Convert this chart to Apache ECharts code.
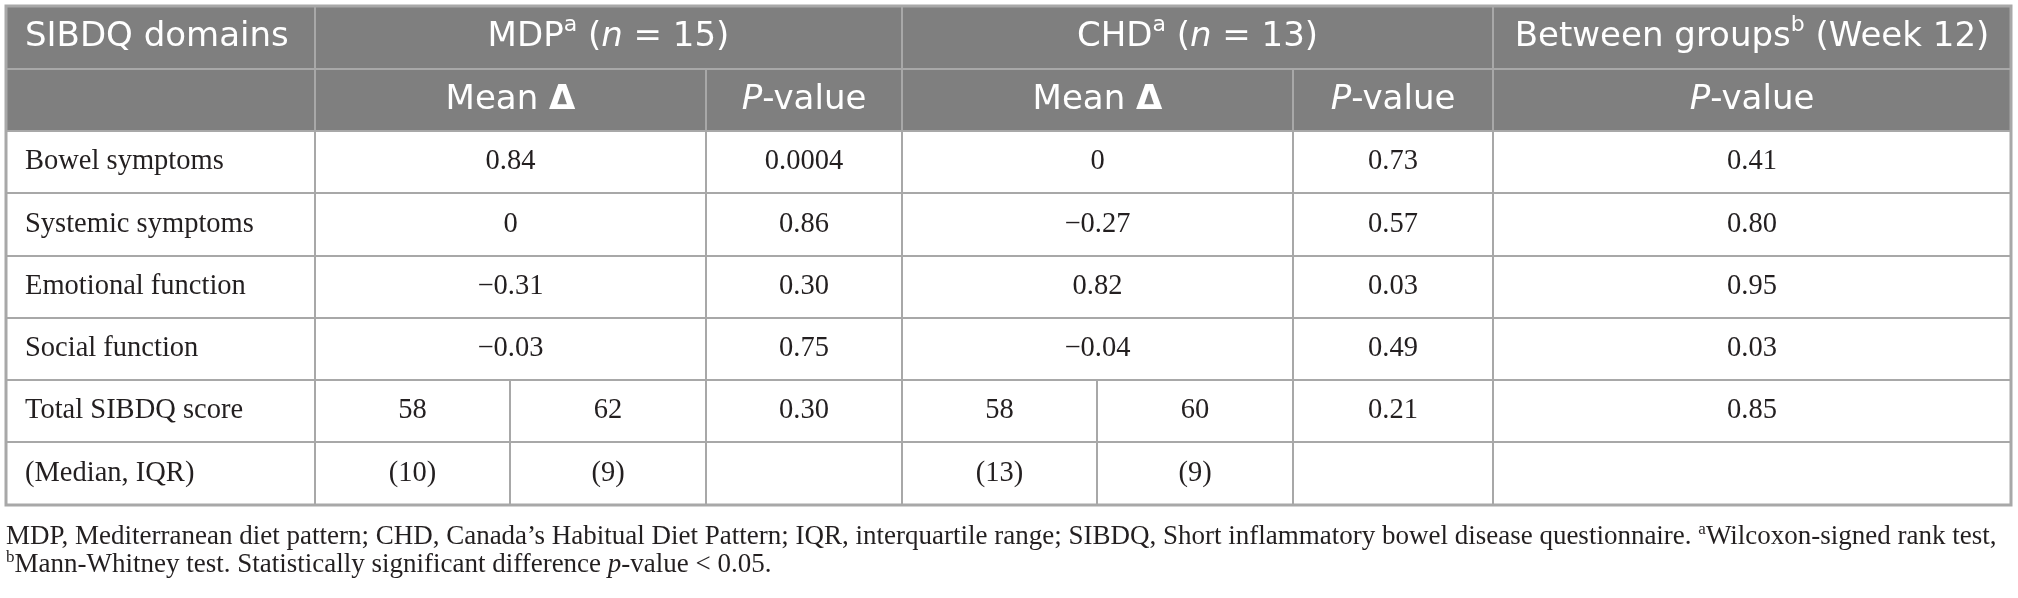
<!DOCTYPE html>
<html>
<head>
<meta charset="utf-8">
<script src="https://cdn.jsdelivr.net/npm/echarts@6/dist/echarts.min.js"></script>
<style>
html, body { margin: 0; padding: 0; background: #fff; }
#main { width: 2018px; height: 598px; }
</style>
</head>
<body>
<div id="main"></div>
<script>
'use strict';

// 表头
var firstHead = 'SIBDQ domains';
var groupHeads = ['MDP{sup|a} ({i|n} = 15)', 'CHD{sup|a} ({i|n} = 13)', 'Between groups{sup|b} (Week 12)'];
var subHeads = ['Mean {b|Δ}', '{i|P}-value', 'Mean {b|Δ}', '{i|P}-value', '{i|P}-value'];

// 数据
var domains = ['Bowel symptoms', 'Systemic symptoms', 'Emotional function', 'Social function', 'Total SIBDQ score', '(Median, IQR)'];
var mdpMean = ['0.84', '0', '\u22120.31', '\u22120.03'];
var mdpP = ['0.0004', '0.86', '0.30', '0.75', '0.30', ''];
var chdMean = ['0', '\u22120.27', '0.82', '\u22120.04'];
var chdP = ['0.73', '0.57', '0.03', '0.49', '0.21', ''];
var betweenP = ['0.41', '0.80', '0.95', '0.03', '0.85', ''];
var mdpScore = [['58', '62'], ['(10)', '(9)']];
var chdScore = [['58', '60'], ['(13)', '(9)']];

var footLine1 = 'MDP, Mediterranean diet pattern; CHD, Canada\u2019s Habitual Diet Pattern; IQR, interquartile range; SIBDQ, Short inflammatory bowel disease questionnaire. {sup|a}Wilcoxon-signed rank test,';
var footLine2 = '{sup|b}Mann-Whitney test. Statistically significant difference {i|p}-value < 0.05.';

// 表格网格 (坐标轴单位)
var colEdges = [6, 315, 510, 706, 902, 1097, 1293, 1493, 2011];
var rowEdges = [6, 69, 131, 193, 256, 318, 380, 442, 505];

var HEAD_BG = '#7f7f7f';
var LINE = '#a8a8a8';
var INK = '#231f20';

// 单元格
var cells = [];
function addCell(c0, c1, r0, r1, text, kind, align) {
    cells.push({
        value: [colEdges[c0], rowEdges[r0], colEdges[c1], rowEdges[r1]],
        text: text, kind: kind, align: align || 'center'
    });
}

addCell(0, 1, 0, 1, firstHead, 'head', 'left');
addCell(1, 4, 0, 1, groupHeads[0], 'head');
addCell(4, 7, 0, 1, groupHeads[1], 'head');
addCell(7, 8, 0, 1, groupHeads[2], 'head');
addCell(0, 1, 1, 2, '', 'head');
var subSpans = [[1, 3], [3, 4], [4, 6], [6, 7], [7, 8]];
subSpans.forEach(function (s, i) {
    addCell(s[0], s[1], 1, 2, subHeads[i], 'head');
});

domains.forEach(function (d, i) {
    var r = i + 2;
    addCell(0, 1, r, r + 1, d, 'body', 'left');
    if (i < 4) {
        addCell(1, 3, r, r + 1, mdpMean[i], 'body');
        addCell(4, 6, r, r + 1, chdMean[i], 'body');
    } else {
        addCell(1, 2, r, r + 1, mdpScore[i - 4][0], 'body');
        addCell(2, 3, r, r + 1, mdpScore[i - 4][1], 'body');
        addCell(4, 5, r, r + 1, chdScore[i - 4][0], 'body');
        addCell(5, 6, r, r + 1, chdScore[i - 4][1], 'body');
    }
    addCell(3, 4, r, r + 1, mdpP[i], 'body');
    addCell(6, 7, r, r + 1, chdP[i], 'body');
    addCell(7, 8, r, r + 1, betweenP[i], 'body');
});
// 外框
cells.push({ value: [colEdges[0], rowEdges[0], colEdges[8], rowEdges[8]], text: '', kind: 'frame' });

var headFont = 'DejaVu Sans';
var bodyFont = 'Liberation Serif';
var HEAD_SIZE = 34;

var headRich = {
    sup: { fontFamily: headFont, fontSize: 22, lineHeight: 22, verticalAlign: 'top' },
    i: { fontFamily: headFont, fontSize: HEAD_SIZE, fontStyle: 'italic', lineHeight: 46 },
    b: { fontFamily: headFont, fontSize: HEAD_SIZE, fontWeight: 'bold', lineHeight: 46 }
};

function renderCell(params, api) {
    var c = cells[params.dataIndex];
    var p0 = api.coord([api.value(0), api.value(1)]);
    var p1 = api.coord([api.value(2), api.value(3)]);
    var w = p1[0] - p0[0];
    var h = p1[1] - p0[1];

    if (c.kind === 'frame') {
        return {
            type: 'rect',
            shape: { x: p0[0], y: p0[1], width: w, height: h },
            style: { fill: 'none', stroke: LINE, lineWidth: 3 },
            z2: 10
        };
    }

    var head = c.kind === 'head';
    var tx = c.align === 'left' ? p0[0] + 19 : p0[0] + w / 2;
    return {
        type: 'group',
        children: [{
            type: 'rect',
            shape: { x: p0[0], y: p0[1], width: w, height: h },
            style: { fill: head ? HEAD_BG : '#fff', stroke: LINE, lineWidth: 2 }
        }, {
            type: 'text',
            x: tx,
            y: p0[1] + h / 2,
            style: {
                text: c.text,
                fill: head ? '#fff' : INK,
                fontFamily: head ? headFont : bodyFont,
                fontSize: head ? HEAD_SIZE : 28.5,
                lineHeight: head ? 46 : 34,
                align: c.align,
                verticalAlign: 'middle',
                rich: head ? headRich : {}
            },
            z2: 5
        }]
    };
}

var footRich = {
    sup: { fontFamily: bodyFont, fontSize: 17, lineHeight: 16, verticalAlign: 'top', color: INK },
    i: { fontFamily: bodyFont, fontSize: 27, fontStyle: 'italic', lineHeight: 32, color: INK }
};

var chart = echarts.init(document.getElementById('main'), null, { renderer: 'canvas' });

var option = {
    animation: false,
    backgroundColor: '#fff',
    title: [{
        text: footLine1,
        left: 6,
        top: 521,
        padding: 0,
        textStyle: { fontFamily: bodyFont, fontSize: 27, fontWeight: 'normal', color: INK, lineHeight: 32, rich: footRich }
    }, {
        text: footLine2,
        left: 6,
        top: 549,
        padding: 0,
        textStyle: { fontFamily: bodyFont, fontSize: 27, fontWeight: 'normal', color: INK, lineHeight: 32, rich: footRich }
    }],
    grid: { left: 0, right: 0, top: 0, bottom: 0 },
    xAxis: { type: 'value', min: 0, max: 2018, show: false },
    yAxis: { type: 'value', min: 0, max: 598, inverse: true, show: false },
    series: [{
        type: 'custom',
        renderItem: renderCell,
        clip: false,
        silent: true,
        data: cells
    }]
};

chart.setOption(option);
</script>
</body>
</html>
